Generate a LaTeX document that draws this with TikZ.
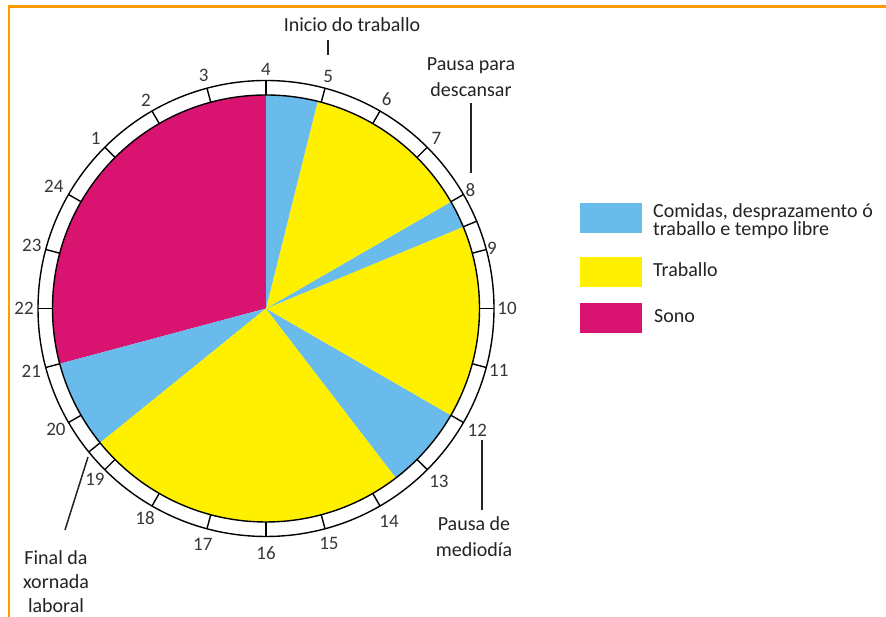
\documentclass[tikz,border=0pt]{standalone}
\usepackage{fontspec}
\setmainfont{Carlito}
\definecolor{blu}{RGB}{105,187,235}
\definecolor{yel}{RGB}{255,240,0}
\definecolor{mag}{RGB}{216,20,112}
\definecolor{org}{RGB}{255,153,0}
\definecolor{ink}{RGB}{35,35,35}
\definecolor{numink}{RGB}{55,55,55}
\setlength{\lineskiplimit}{-100pt}
\begin{document}
\begin{tikzpicture}[x=1pt,y=1pt,
  ringline/.style={draw=black, line width=1.4pt},
  tickline/.style={draw=black, line width=1.4pt},
  leader/.style={draw=ink, line width=1.5pt},
  hourlbl/.style={font=\fontsize{19}{19}\selectfont, text=numink, inner sep=0pt},
  lbl/.style={font=\fontsize{20}{25}\selectfont, text=ink, inner sep=0pt, align=center},
  legtext/.style={font=\fontsize{20}{18}\selectfont, text=ink, inner sep=0pt, align=left},
  legbox/.style={minimum width=62pt, minimum height=30pt, inner sep=0pt, draw=none}]
\useasboundingbox[fill=white] (0,0) rectangle (886,617);
% orange frame
\draw[org, line width=2.5pt] (886,610.5) -- (9,610.5) -- (9,0);
\coordinate (C) at (266,308.5);
\def\R{213.5}
\def\Ro{228}
% sectors
\fill[mag] (C) -- ([shift={(90:\R)}]C) arc[start angle=90, end angle=195, radius=\R] -- cycle;
\fill[blu] (C) -- ([shift={(195:\R)}]C) arc[start angle=195, end angle=219, radius=\R] -- cycle;
\fill[yel] (C) -- ([shift={(-141:\R)}]C) arc[start angle=-141, end angle=-52.5, radius=\R] -- cycle;
\fill[blu] (C) -- ([shift={(-52.5:\R)}]C) arc[start angle=-52.5, end angle=-30, radius=\R] -- cycle;
\fill[yel] (C) -- ([shift={(-30:\R)}]C) arc[start angle=-30, end angle=22.5, radius=\R] -- cycle;
\fill[blu] (C) -- ([shift={(22.5:\R)}]C) arc[start angle=22.5, end angle=30, radius=\R] -- cycle;
\fill[yel] (C) -- ([shift={(30:\R)}]C) arc[start angle=30, end angle=76, radius=\R] -- cycle;
\fill[blu] (C) -- ([shift={(76:\R)}]C) arc[start angle=76, end angle=90, radius=\R] -- cycle;
% ring
\draw[ringline] (C) circle[radius=\R];
\draw[ringline] (C) circle[radius=\Ro];
\foreach \a in {22.5,219} {
  \draw[tickline] ([shift={(\a:\R)}]C) -- ([shift={(\a:\Ro)}]C);
}
\foreach \h/\r in {1/241,2/240,3/241,4/239,5/240,6/241.5,7/241,8/236,9/234,10/241,11/241,12/244,
  13/244.5,14/246,15/243,16/244.5,17/244,18/242,19/242,20/242.5,21/243,22/242,23/242.5,24/245} {
  \pgfmathsetmacro\a{90-(\h-4)*15}
  \draw[tickline] ([shift={(\a:\R)}]C) -- ([shift={(\a:\Ro)}]C);
  \node[hourlbl] (h\h) at ([shift={(\a:\r)}]C) {\h};
}
% annotations
\node[lbl, anchor=base] (inicio) at (352,585) {Inicio do traballo};
\coordinate (i1) at (328,577);
\coordinate (i2) at (328,562);
\draw[leader] (i1) -- (i2);
\node[lbl, anchor=north, font=\fontsize{20}{26}\selectfont] (descanso) at (471,560) {Pausa para\\descansar};
\coordinate (d1) at (471,514);
\coordinate (d2) at (471,444);
\draw[leader] (d1) -- (d2);
\node[lbl, anchor=north, font=\fontsize{20}{26}\selectfont] (mediodia) at (474,101) {Pausa de\\mediodía};
\coordinate (m1) at (482,177);
\coordinate (m2) at (482,107);
\draw[leader] (m1) -- (m2);
\node[lbl, anchor=north, font=\fontsize{20}{24}\selectfont] (final) at (56,67) {Final da\\xornada\\laboral};
\coordinate (f1) at (88,160);
\coordinate (f2) at (65,87);
\draw[leader] (f1) -- (f2);
% legend
\node[legbox, fill=blu] (kb) at (611,399) {};
\node[legbox, fill=yel] (ky) at (611,345) {};
\node[legbox, fill=mag] (km) at (611,299) {};
\node[legtext, anchor=north west] (tb) at (653,414) {Comidas, desprazamento ó\\traballo e tempo libre};
\node[legtext, anchor=base west] (ty) at (653,340) {Traballo};
\node[legtext, anchor=base west] (tm) at (654,294) {Sono};
\end{tikzpicture}
\end{document}
